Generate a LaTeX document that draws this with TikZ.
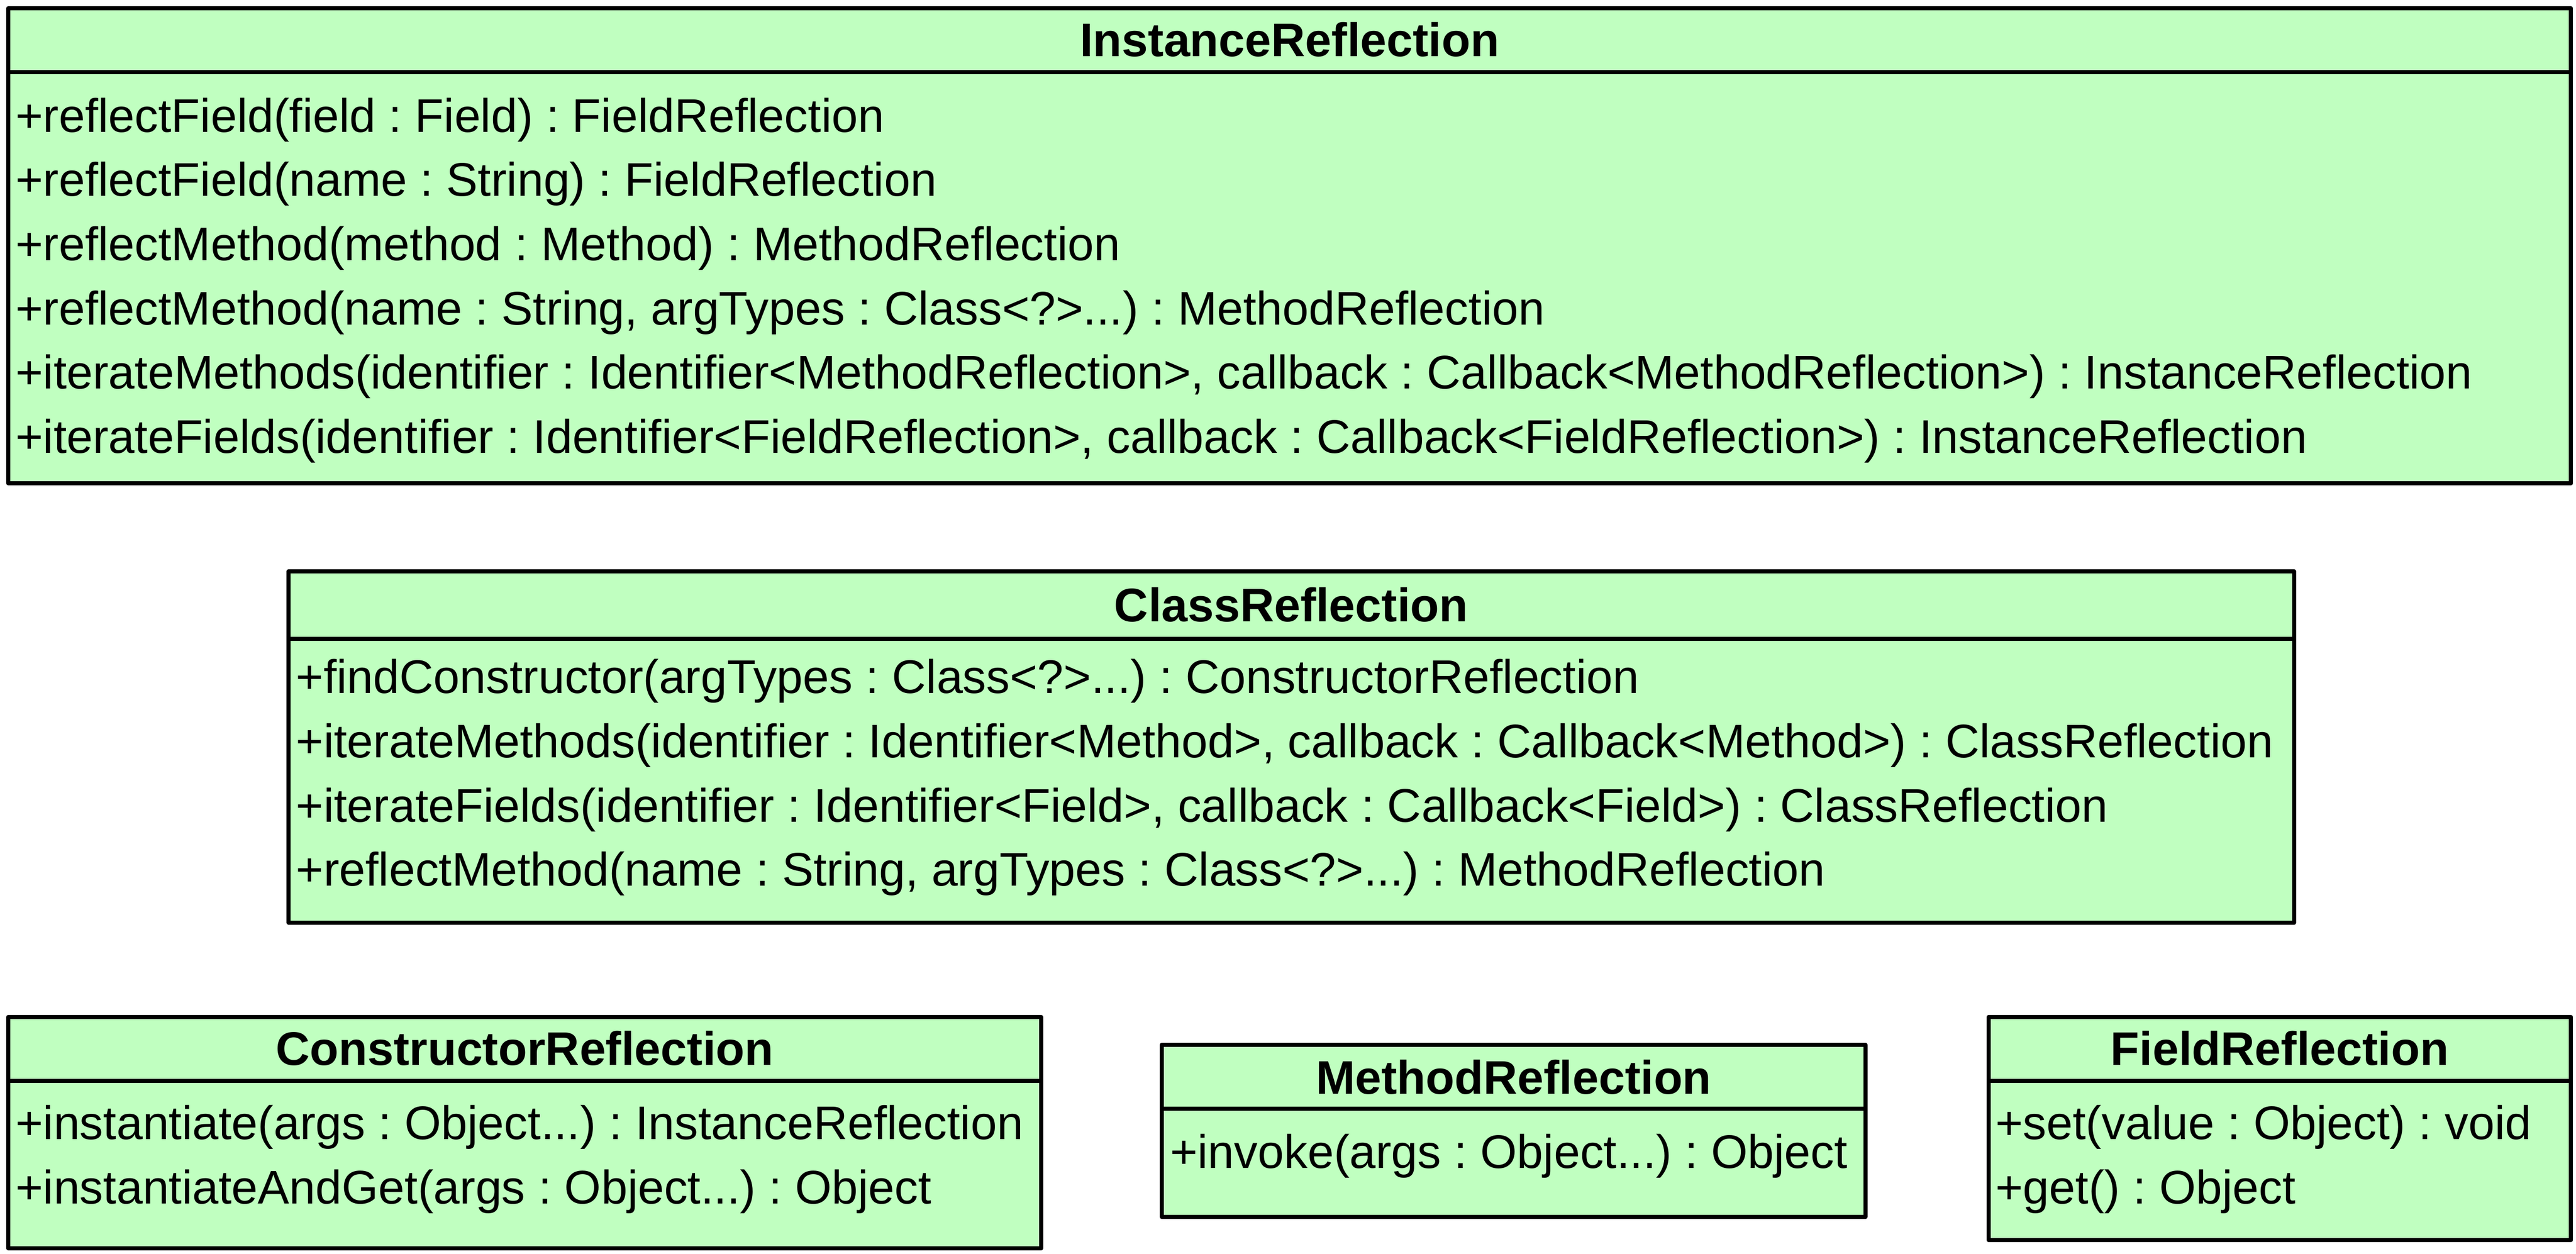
\documentclass[tikz,border=0pt]{standalone}
\usepackage{fontspec}
\setmainfont{Liberation Sans}
\definecolor{umlfill}{RGB}{192,255,192}
\begin{document}
\frenchspacing
\begin{tikzpicture}[x=1pt,y=-1pt,
  umlbox/.style={draw=black, fill=umlfill, line width=2.5pt, line join=round, rectangle, inner sep=0pt, anchor=north west},
  divider/.style={draw=black, line width=2.5pt},
  ttl/.style={font=\bfseries\fontsize{28.7}{34}\selectfont, anchor=base, inner sep=0pt},
  row/.style={font=\fontsize{28.7}{34}\selectfont, anchor=base west, inner sep=0pt}]
\useasboundingbox (0,0) rectangle (1568,763.14);
% InstanceReflection
\node[umlbox, minimum width=1559.9pt, minimum height=289.2pt] (ir) at (3.8,3.8) {};
\draw[divider] ([yshift=-40pt]ir.north west) -- ([yshift=-40pt]ir.north east);
\node[ttl] (irt) at ([yshift=-30.5pt]ir.north) {InstanceReflection};
\node[row] (ir1) at (9.3,80.3) {+reflectField(field : Field) : FieldReflection};
\node[row] (ir2) at (9.3,119.4) {+reflectField(name : String) : FieldReflection};
\node[row] (ir3) at (9.3,158.5) {+reflectMethod(method : Method) : MethodReflection};
\node[row] (ir4) at (9.3,197.6) {+reflectMethod(name : String, argTypes : Class<?>...) : MethodReflection};
\node[row] (ir5) at (9.3,236.7) {+iterateMethods(identifier : Identifier<MethodReflection>, callback : Callback<MethodReflection>) : InstanceReflection};
\node[row] (ir6) at (9.3,275.8) {+iterateFields(identifier : Identifier<FieldReflection>, callback : Callback<FieldReflection>) : InstanceReflection};
% ClassReflection
\node[umlbox, minimum width=1220.8pt, minimum height=213.9pt] (cr) at (174.3,346.4) {};
\draw[divider] ([yshift=-42.6pt]cr.north west) -- ([yshift=-42.6pt]cr.north east);
\node[ttl] (crt) at ([yshift=-32pt]cr.north) {ClassReflection};
\node[row] (cr1) at (180,422.0) {+findConstructor(argTypes : Class<?>...) : ConstructorReflection};
\node[row] (cr2) at (180,461.1) {+iterateMethods(identifier : Identifier<Method>, callback : Callback<Method>) : ClassReflection};
\node[row] (cr3) at (180,500.2) {+iterateFields(identifier : Identifier<Field>, callback : Callback<Field>) : ClassReflection};
\node[row] (cr4) at (180,539.3) {+reflectMethod(name : String, argTypes : Class<?>...) : MethodReflection};
% ConstructorReflection
\node[umlbox, minimum width=628.6pt, minimum height=140.8pt] (co) at (3.8,617.8) {};
\draw[divider] ([yshift=-40pt]co.north west) -- ([yshift=-40pt]co.north east);
\node[ttl] (cot) at ([yshift=-30.5pt]co.north) {ConstructorReflection};
\node[row] (co1) at (9.3,693.5) {+instantiate(args : Object...) : InstanceReflection};
\node[row] (co2) at (9.3,732.6) {+instantiateAndGet(args : Object...) : Object};
% MethodReflection
\node[umlbox, minimum width=428.2pt, minimum height=104.9pt] (mr) at (706,634.6) {};
\draw[divider] ([yshift=-40.4pt]mr.north west) -- ([yshift=-40.4pt]mr.north east);
\node[ttl] (mrt) at ([yshift=-31.3pt]mr.north) {MethodReflection};
\node[row] (mr1) at (712,711.2) {+invoke(args : Object...) : Object};
% FieldReflection
\node[umlbox, minimum width=354.6pt, minimum height=135.7pt] (fr) at (1209.1,617.8) {};
\draw[divider] ([yshift=-40pt]fr.north west) -- ([yshift=-40pt]fr.north east);
\node[ttl] (frt) at ([yshift=-30.5pt]fr.north) {FieldReflection};
\node[row] (fr1) at (1214.5,693.5) {+set(value : Object) : void};
\node[row] (fr2) at (1214.5,732.6) {+get() : Object};
\end{tikzpicture}
\end{document}
